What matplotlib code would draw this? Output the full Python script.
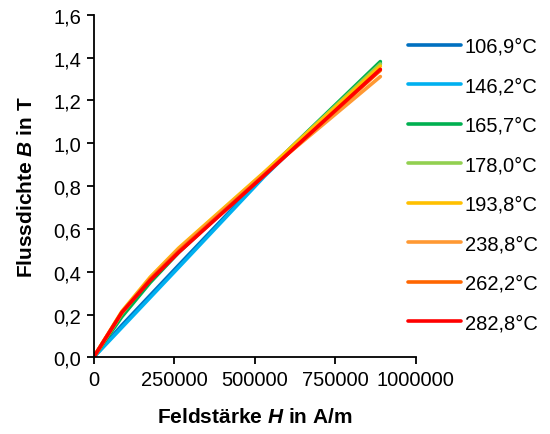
import matplotlib
matplotlib.use("Agg")
import matplotlib.pyplot as plt
from matplotlib.ticker import FuncFormatter, MultipleLocator

plt.rcParams['font.family'] = ['Liberation Sans', 'DejaVu Sans']
plt.rcParams['mathtext.fontset'] = 'custom'
plt.rcParams['mathtext.bfit'] = 'Liberation Sans:italic:bold'
plt.rcParams['mathtext.rm'] = 'Liberation Sans:bold'

# measurement points (H in A/m, B in T)
temps = ['106,9°C', '146,2°C', '165,7°C', '178,0°C',
         '193,8°C', '238,8°C', '262,2°C', '282,8°C']
colors = ['#0070C0', '#00B0F0', '#00B050', '#92D050',
          '#FFC000', '#FF9933', '#FF6600', '#FF0000']

H = [0, 88000, 176000, 264000, 530000, 890000]
B_106 = [0, 0.150, 0.290, 0.430, 0.850, 1.375]
B_146 = [0, 0.140, 0.280, 0.420, 0.845, 1.372]
B_165 = [0, 0.190, 0.350, 0.490, 0.860, 1.381]
B_178 = [0, 0.205, 0.370, 0.505, 0.862, 1.370]
B_193 = [0, 0.215, 0.375, 0.510, 0.865, 1.360]
B_238 = [0, 0.210, 0.370, 0.505, 0.858, 1.311]
B_262 = [0, 0.210, 0.365, 0.495, 0.852, 1.340]
B_282 = [0, 0.210, 0.360, 0.490, 0.850, 1.345]
series = [B_106, B_146, B_165, B_178, B_193, B_238, B_262, B_282]

fig = plt.figure(figsize=(5.5, 4.35), dpi=100)
ax = fig.add_axes([0.17, 0.176, 0.586, 0.788])

for B, c, t in zip(series, colors, temps):
    ax.plot(H, B, color=c, lw=2.6, label=t, solid_capstyle='round')

ax.set_xlim(0, 1000000)
ax.set_ylim(0, 1.6)
ax.xaxis.set_major_locator(MultipleLocator(250000))
ax.yaxis.set_major_locator(MultipleLocator(0.2))
ax.yaxis.set_major_formatter(FuncFormatter(lambda v, p: f'{v:.1f}'.replace('.', ',')))
ax.xaxis.set_major_formatter(FuncFormatter(lambda v, p: f'{int(round(v))}'))

for s in ['top', 'right']:
    ax.spines[s].set_visible(False)
for s in ['left', 'bottom']:
    ax.spines[s].set_linewidth(1.3)
ax.tick_params(direction='out', length=5, width=1.3, labelsize=14.5, pad=4)

ax.set_xlabel(r'Feldstärke $\mathbfit{H}$ in A/m', fontsize=15, fontweight='bold', labelpad=13)
ax.set_ylabel(r'Flussdichte $\mathbfit{B}$ in T', fontsize=15, fontweight='bold', labelpad=12)

fig.legend(loc='upper left', bbox_to_anchor=(0.728, 0.932), frameon=False,
           fontsize=14.5, handlelength=2.6, handletextpad=0.2, labelspacing=1.02,
           borderaxespad=0)

fig.savefig('out.png', dpi=100)
